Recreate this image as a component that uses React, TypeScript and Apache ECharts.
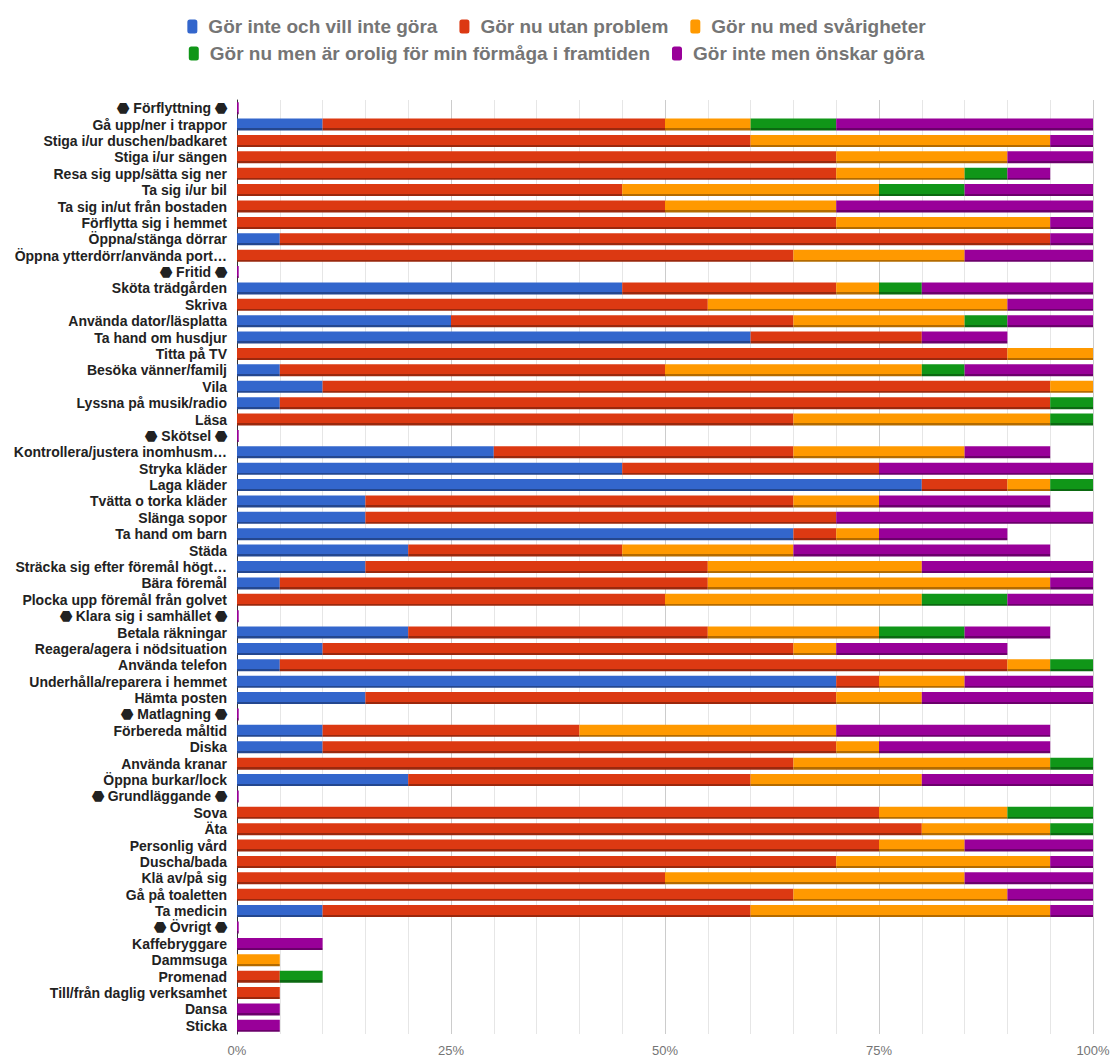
import React, { useEffect, useRef } from "react";
import * as echarts from "echarts";

const HEX = "\u2B23";
const categories = [
  `${HEX} Förflyttning ${HEX}`,
  "Gå upp/ner i trappor",
  "Stiga i/ur duschen/badkaret",
  "Stiga i/ur sängen",
  "Resa sig upp/sätta sig ner",
  "Ta sig i/ur bil",
  "Ta sig in/ut från bostaden",
  "Förflytta sig i hemmet",
  "Öppna/stänga dörrar",
  "Öppna ytterdörr/använda port…",
  `${HEX} Fritid ${HEX}`,
  "Sköta trädgården",
  "Skriva",
  "Använda dator/läsplatta",
  "Ta hand om husdjur",
  "Titta på TV",
  "Besöka vänner/familj",
  "Vila",
  "Lyssna på musik/radio",
  "Läsa",
  `${HEX} Skötsel ${HEX}`,
  "Kontrollera/justera inomhusm…",
  "Stryka kläder",
  "Laga kläder",
  "Tvätta o torka kläder",
  "Slänga sopor",
  "Ta hand om barn",
  "Städa",
  "Sträcka sig efter föremål högt…",
  "Bära föremål",
  "Plocka upp föremål från golvet",
  `${HEX} Klara sig i samhället ${HEX}`,
  "Betala räkningar",
  "Reagera/agera i nödsituation",
  "Använda telefon",
  "Underhålla/reparera i hemmet",
  "Hämta posten",
  `${HEX} Matlagning ${HEX}`,
  "Förbereda måltid",
  "Diska",
  "Använda kranar",
  "Öppna burkar/lock",
  `${HEX} Grundläggande ${HEX}`,
  "Sova",
  "Äta",
  "Personlig vård",
  "Duscha/bada",
  "Klä av/på sig",
  "Gå på toaletten",
  "Ta medicin",
  `${HEX} Övrigt ${HEX}`,
  "Kaffebryggare",
  "Dammsuga",
  "Promenad",
  "Till/från daglig verksamhet",
  "Dansa",
  "Sticka",
];

const seriesNames = [
  "Gör inte och vill inte göra",
  "Gör nu utan problem",
  "Gör nu med svårigheter",
  "Gör nu men är orolig för min förmåga i framtiden",
  "Gör inte men önskar göra",
];

const gorInteVillInte = [
  0, 10, 0, 0, 0, 0, 0, 0, 5, 0,
  0, 45, 0, 25, 60, 0, 5, 10, 5, 0,
  0, 30, 45, 80, 15, 15, 65, 20, 15, 5, 0,
  0, 20, 10, 5, 70, 15,
  0, 10, 10, 0, 20,
  0, 0, 0, 0, 0, 0, 0, 10,
  0, 0, 0, 0, 0, 0, 0,
];
const utanProblem = [
  0, 40, 60, 70, 70, 45, 50, 70, 90, 65,
  0, 25, 55, 40, 20, 90, 45, 85, 90, 65,
  0, 35, 30, 10, 50, 55, 5, 25, 40, 50, 50,
  0, 35, 55, 85, 5, 55,
  0, 30, 60, 65, 40,
  0, 75, 80, 75, 70, 50, 65, 50,
  0, 0, 0, 5, 5, 0, 0,
];
const medSvarigheter = [
  0, 10, 35, 20, 15, 30, 20, 25, 0, 20,
  0, 5, 35, 20, 0, 10, 30, 5, 0, 30,
  0, 20, 0, 5, 10, 0, 5, 20, 25, 40, 30,
  0, 20, 5, 5, 10, 10,
  0, 30, 5, 30, 20,
  0, 15, 15, 10, 25, 35, 25, 35,
  0, 0, 5, 0, 0, 0, 0,
];
const orolig = [
  0, 10, 0, 0, 5, 10, 0, 0, 0, 0,
  0, 5, 0, 5, 0, 0, 5, 0, 5, 5,
  0, 0, 0, 5, 0, 0, 0, 0, 0, 0, 10,
  0, 10, 0, 5, 0, 0,
  0, 0, 0, 5, 0,
  0, 10, 5, 0, 0, 0, 0, 0,
  0, 0, 0, 5, 0, 0, 0,
];
const onskarGora = [
  0.2, 30, 5, 10, 5, 15, 30, 5, 5, 15,
  0.2, 20, 10, 10, 10, 0, 15, 0, 0, 0,
  0.2, 10, 25, 0, 20, 30, 15, 30, 20, 5, 10,
  0.2, 10, 20, 0, 15, 20,
  0.2, 25, 20, 0, 20,
  0.2, 0, 0, 15, 5, 15, 10, 5,
  0.2, 10, 0, 0, 0, 5, 5,
];

const xTicks = [0, 25, 50, 75, 100];

const colors = ["#3366CC", "#DC3912", "#FF9900", "#109618", "#990099"];
const shadows = ["#24478f", "#9a280d", "#b36b00", "#0b6911", "#6b006b"];

const SANS = "'Liberation Sans', Arial, Helvetica, sans-serif";

export default function App() {
  const ref = useRef<HTMLDivElement>(null);
  useEffect(() => {
    if (!ref.current) return;
    const chart = echarts.init(ref.current, null, { renderer: "svg" });
    const values = [gorInteVillInte, utanProblem, medSvarigheter, orolig, onskarGora];
    const legendText = {
      color: "#757575",
      fontSize: 19,
      fontWeight: "bold" as const,
      fontFamily: SANS,
      padding: [0, 0, 0, 6],
    };
    const legendItem = (i: number) => ({ name: seriesNames[i], itemStyle: { color: colors[i] } });
    chart.setOption({
      animation: false,
      color: colors,
      legend: [
        {
          data: [0, 1, 2].map(legendItem),
          top: 12,
          left: "center",
          icon: "roundRect",
          itemWidth: 10,
          itemHeight: 14,
          itemGap: 22,
          textStyle: legendText,
        },
        {
          data: [3, 4].map(legendItem),
          top: 39,
          left: "center",
          icon: "roundRect",
          itemWidth: 10,
          itemHeight: 14,
          itemGap: 22,
          textStyle: legendText,
        },
      ],
      grid: { left: 237, right: 20, top: 100, bottom: 23, containLabel: false },
      xAxis: {
        type: "value",
        min: 0,
        max: 100,
        interval: 25,
        axisLine: { show: false },
        axisTick: { show: false },
        axisLabel: {
          color: "#757575",
          fontSize: 13,
          fontFamily: SANS,
          margin: 10,
          formatter: (v: number) => (xTicks.includes(v) ? `${v}%` : ""),
        },
        splitLine: { show: true, lineStyle: { color: "#cccccc", width: 1 } },
        minorTick: { show: false, splitNumber: 5 },
        minorSplitLine: { show: true, lineStyle: { color: "#e6e6e6", width: 1 } },
      },
      yAxis: {
        type: "category",
        data: categories,
        inverse: true,
        axisLine: { show: true, lineStyle: { color: "#333333", width: 1 } },
        axisTick: { show: false },
        axisLabel: {
          color: "#222222",
          fontSize: 14,
          fontWeight: "bold",
          fontFamily: SANS,
          margin: 10,
          interval: 0,
        },
        splitLine: { show: false },
      },
      series: seriesNames.map((name, i) => ({
        name,
        type: "bar",
        stack: "total",
        barWidth: 12,
        data: values[i],
        itemStyle: {
          color: new echarts.graphic.LinearGradient(0, 0, 0, 1, [
            { offset: 0, color: colors[i] },
            { offset: 0.82, color: colors[i] },
            { offset: 0.82, color: shadows[i] },
            { offset: 1, color: shadows[i] },
          ]),
        },
        emphasis: { disabled: true },
      })),
    });
    return () => chart.dispose();
  }, []);
  return <div ref={ref} style={{ width: 1113, height: 1057, position: "absolute", left: 0, top: 0 }} />;
}
